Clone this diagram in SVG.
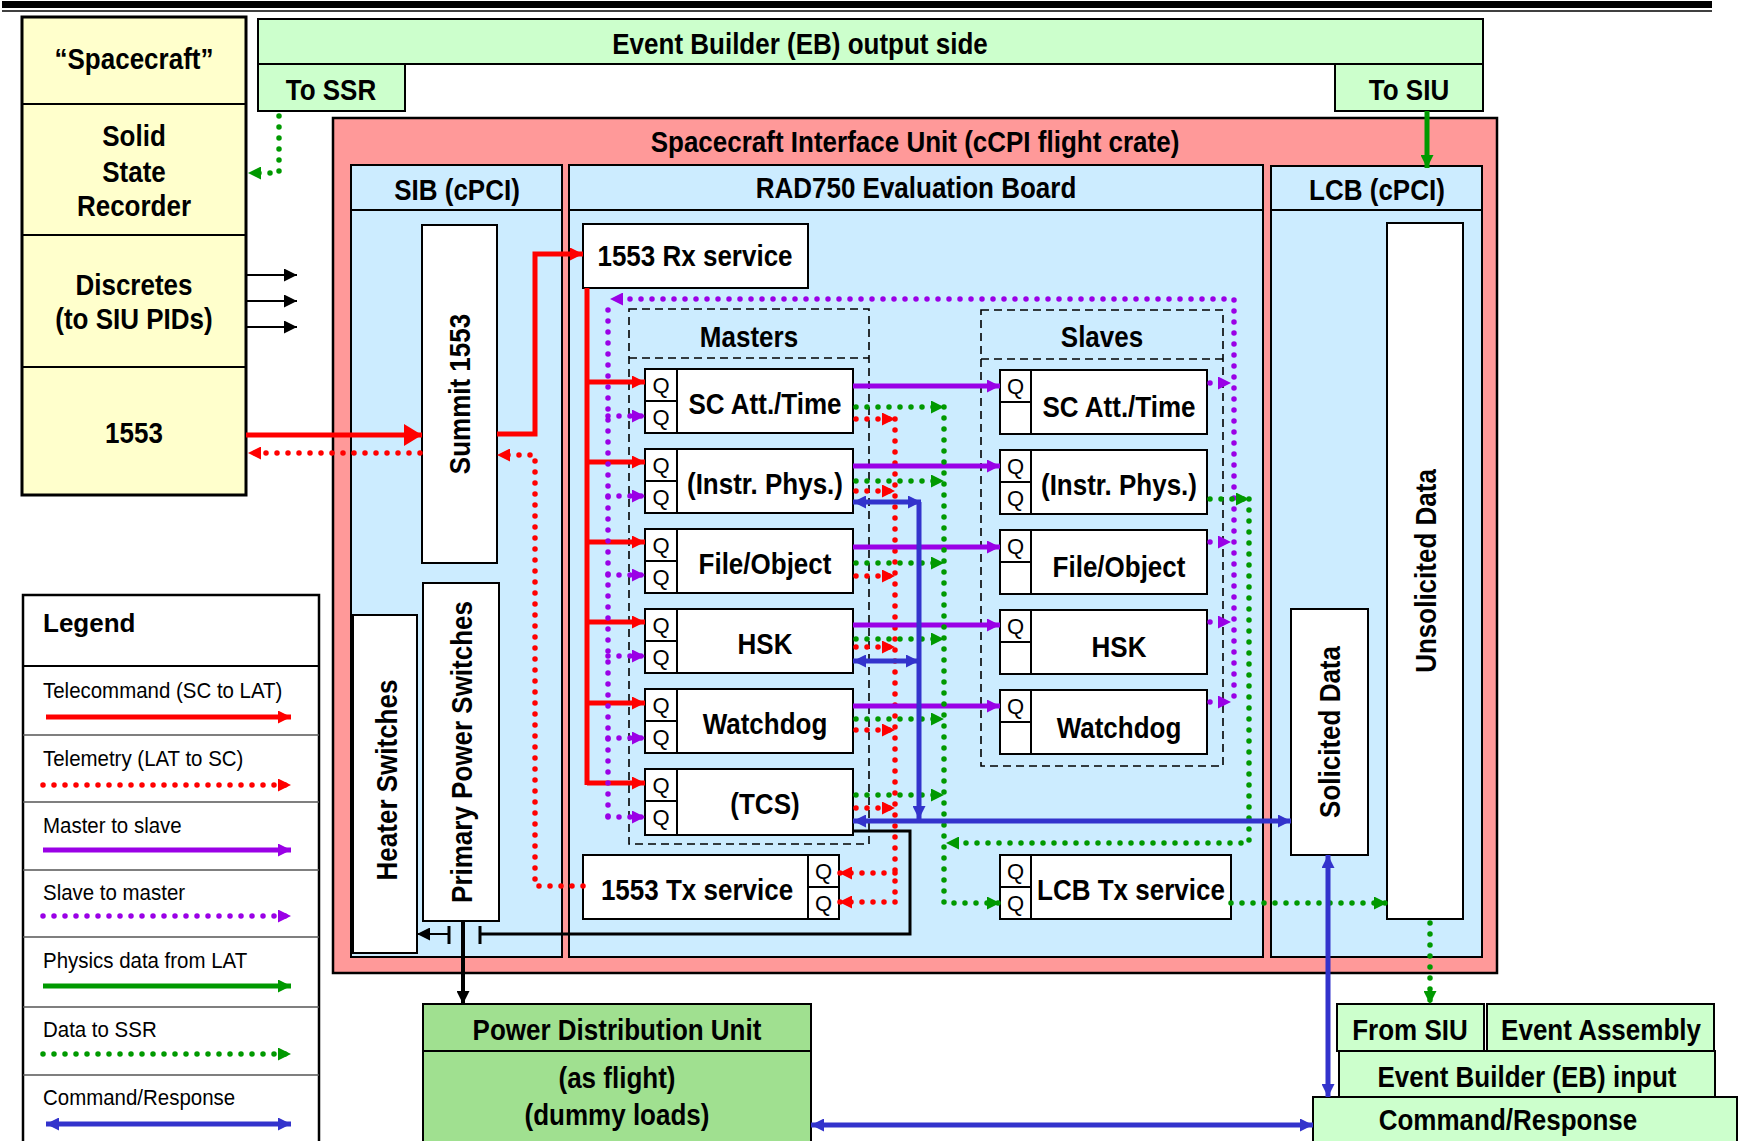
<svg xmlns="http://www.w3.org/2000/svg" width="1738" height="1141" viewBox="0 0 1738 1141">
<style>
text{font-family:"Liberation Sans",Arial,sans-serif;fill:#000}
.t{font-size:30px;font-weight:bold;text-anchor:middle;transform-box:fill-box;transform-origin:center;transform:scale(0.8667,1) translate(0,1.5px)}
.q{font-size:22px;text-anchor:middle}
.lg{font-size:22px;transform-box:fill-box;transform-origin:0 50%;transform:scale(0.93,1)}
.lgh{font-size:26px;font-weight:bold}
.box{fill:#fff;stroke:#000;stroke-width:2}
.yel{fill:#FFFFCC;stroke:#000;stroke-width:3}
.grnl{fill:#CCFFCC;stroke:#000;stroke-width:2}
.grnd{fill:#A0E090;stroke:#000;stroke-width:2}
.pink{fill:#FF9999;stroke:#000;stroke-width:2.5}
.blue{fill:#CCECFF;stroke:#000;stroke-width:2}
.dash{fill:none;stroke:#000;stroke-width:1.6;stroke-dasharray:8 5}
.ln{stroke:#000;stroke-width:2;fill:none}
.c{fill:none;stroke-width:5}
.d{fill:none;stroke-width:5.5;stroke-dasharray:0 11;stroke-linecap:round}
.r{stroke:#FF0000}
.p{stroke:#9A00E6}
.g{stroke:#009900}
.b{stroke:#3333CC}
.k{stroke:#000}
</style>
<defs>
<marker id="ar-r" viewBox="0 0 12 12" markerWidth="13" markerHeight="13" refX="12" refY="6" orient="auto-start-reverse" markerUnits="userSpaceOnUse"><path d="M0,0L12,6L0,12z" fill="#FF0000"/></marker>
<marker id="ar-rb" viewBox="0 0 18 22" markerWidth="18" markerHeight="22" refX="18" refY="11" orient="auto" markerUnits="userSpaceOnUse"><path d="M0,0L18,11L0,22z" fill="#FF0000"/></marker>
<marker id="ar-p" viewBox="0 0 12 12" markerWidth="13" markerHeight="13" refX="12" refY="6" orient="auto-start-reverse" markerUnits="userSpaceOnUse"><path d="M0,0L12,6L0,12z" fill="#9A00E6"/></marker>
<marker id="ar-g" viewBox="0 0 12 12" markerWidth="13" markerHeight="13" refX="12" refY="6" orient="auto-start-reverse" markerUnits="userSpaceOnUse"><path d="M0,0L12,6L0,12z" fill="#009900"/></marker>
<marker id="ar-b" viewBox="0 0 12 12" markerWidth="13" markerHeight="13" refX="12" refY="6" orient="auto-start-reverse" markerUnits="userSpaceOnUse"><path d="M0,0L12,6L0,12z" fill="#3333CC"/></marker>
<marker id="ar-k" viewBox="0 0 12 12" markerWidth="13" markerHeight="13" refX="12" refY="6" orient="auto-start-reverse" markerUnits="userSpaceOnUse"><path d="M0,0L12,6L0,12z" fill="#000"/></marker>
</defs>
<rect width="1738" height="1141" fill="#fff"/>

<g id="top-rule">
<rect x="2" y="1" width="1710" height="7" fill="#000"/>
<line x1="2" y1="11" x2="1712" y2="11" stroke="#000" stroke-width="1.6"/>
</g>

<g id="spacecraft">
<rect class="yel" x="22" y="17" width="224" height="478"/>
<line class="ln" x1="22" y1="104" x2="246" y2="104" stroke-width="3"/>
<line class="ln" x1="22" y1="235" x2="246" y2="235"/>
<line class="ln" x1="22" y1="367" x2="246" y2="367"/>
<text class="t" x="134" y="68">“Spacecraft”</text>
<text class="t" x="134" y="145">Solid</text>
<text class="t" x="134" y="181">State</text>
<text class="t" x="134" y="215">Recorder</text>
<text class="t" x="134" y="294">Discretes</text>
<text class="t" x="134" y="328">(to SIU PIDs)</text>
<text class="t" x="134" y="442">1553</text>
</g>

<g id="eb-output">
<rect class="grnl" x="258" y="19" width="1225" height="45"/>
<text class="t" x="800" y="53">Event Builder (EB) output side</text>
</g>
<g id="to-ssr"><rect class="grnl" x="258" y="64" width="147" height="47"/><text class="t" x="331" y="99">To SSR</text></g>
<g id="to-siu"><rect class="grnl" x="1335" y="64" width="148" height="47"/><text class="t" x="1409" y="99">To SIU</text></g>

<g id="siu-crate">
<rect class="pink" x="333" y="118" width="1164" height="855"/>
<text class="t" x="915" y="151">Spacecraft Interface Unit (cCPI flight crate)</text>
</g>
<g id="sib">
<rect class="blue" x="351" y="165" width="211" height="792"/>
<line class="ln" x1="351" y1="210" x2="562" y2="210"/>
<text class="t" x="457" y="199">SIB (cPCI)</text>
</g>
<g id="rad750">
<rect class="blue" x="569" y="165" width="694" height="792"/>
<line class="ln" x1="569" y1="210" x2="1263" y2="210"/>
<text class="t" x="916" y="197">RAD750 Evaluation Board</text>
</g>
<g id="lcb">
<rect class="blue" x="1271" y="166" width="211" height="791"/>
<line class="ln" x1="1271" y1="210" x2="1482" y2="210"/>
<text class="t" x="1377" y="199">LCB (cPCI)</text>
</g>

<g id="summit"><rect class="box" x="422" y="225" width="75" height="338"/><g transform="translate(459,394) rotate(-90)"><text class="t" x="0" y="9">Summit 1553</text></g></g>
<g id="primary-power"><rect class="box" x="423" y="583" width="76" height="338"/><g transform="translate(461,752) rotate(-90)"><text class="t" x="0" y="9">Primary Power Switches</text></g></g>
<g id="heater"><rect class="box" x="353" y="615" width="64" height="338"/><g transform="translate(386,780) rotate(-90)"><text class="t" x="0" y="9">Heater Switches</text></g></g>

<g id="rx-service"><rect class="box" x="583" y="224" width="225" height="64"/><text class="t" x="695" y="265">1553 Rx service</text></g>

<g id="masters">
<rect class="dash" x="629" y="309" width="240" height="535"/>
<line class="dash" x1="629" y1="358" x2="869" y2="358"/>
<text class="t" x="749" y="346">Masters</text>
</g>
<g id="slaves">
<rect class="dash" x="981" y="310" width="242" height="456"/>
<line class="dash" x1="981" y1="359" x2="1223" y2="359"/>
<text class="t" x="1102" y="346">Slaves</text>
</g>

<g id="m-scatt"><rect class="box" x="645" y="369" width="208" height="64"/><path class="ln" d="M677,369V433M645,401H677"/><text class="q" x="661" y="393">Q</text><text class="q" x="661" y="425">Q</text><text class="t" x="765" y="413">SC Att./Time</text></g>
<g id="m-instr"><rect class="box" x="645" y="449" width="208" height="64"/><path class="ln" d="M677,449V513M645,481H677"/><text class="q" x="661" y="473">Q</text><text class="q" x="661" y="505">Q</text><text class="t" x="765" y="493">(Instr. Phys.)</text></g>
<g id="m-file"><rect class="box" x="645" y="529" width="208" height="64"/><path class="ln" d="M677,529V593M645,561H677"/><text class="q" x="661" y="553">Q</text><text class="q" x="661" y="585">Q</text><text class="t" x="765" y="573">File/Object</text></g>
<g id="m-hsk"><rect class="box" x="645" y="609" width="208" height="64"/><path class="ln" d="M677,609V673M645,641H677"/><text class="q" x="661" y="633">Q</text><text class="q" x="661" y="665">Q</text><text class="t" x="765" y="653">HSK</text></g>
<g id="m-watchdog"><rect class="box" x="645" y="689" width="208" height="64"/><path class="ln" d="M677,689V753M645,721H677"/><text class="q" x="661" y="713">Q</text><text class="q" x="661" y="745">Q</text><text class="t" x="765" y="733">Watchdog</text></g>
<g id="m-tcs"><rect class="box" x="645" y="769" width="208" height="66"/><path class="ln" d="M677,769V835M645,801H677"/><text class="q" x="661" y="793">Q</text><text class="q" x="661" y="825">Q</text><text class="t" x="765" y="813">(TCS)</text></g>

<g id="s-scatt"><rect class="box" x="1000" y="370" width="207" height="64"/><path class="ln" d="M1031,370V434M1000,402H1031"/><text class="q" x="1015.5" y="394">Q</text><text class="t" x="1119" y="416">SC Att./Time</text></g>
<g id="s-instr"><rect class="box" x="1000" y="450" width="207" height="64"/><path class="ln" d="M1031,450V514M1000,482H1031"/><text class="q" x="1015.5" y="474">Q</text><text class="q" x="1015.5" y="506">Q</text><text class="t" x="1119" y="494">(Instr. Phys.)</text></g>
<g id="s-file"><rect class="box" x="1000" y="530" width="207" height="64"/><path class="ln" d="M1031,530V594M1000,562H1031"/><text class="q" x="1015.5" y="554">Q</text><text class="t" x="1119" y="576">File/Object</text></g>
<g id="s-hsk"><rect class="box" x="1000" y="610" width="207" height="64"/><path class="ln" d="M1031,610V674M1000,642H1031"/><text class="q" x="1015.5" y="634">Q</text><text class="t" x="1119" y="656">HSK</text></g>
<g id="s-watchdog"><rect class="box" x="1000" y="690" width="207" height="64"/><path class="ln" d="M1031,690V754M1000,722H1031"/><text class="q" x="1015.5" y="714">Q</text><text class="t" x="1119" y="737">Watchdog</text></g>

<g id="tx-service"><rect class="box" x="583" y="855" width="256" height="64"/><path class="ln" d="M808,855V919M808,887H839"/><text class="q" x="823.5" y="879">Q</text><text class="q" x="823.5" y="911">Q</text><text class="t" x="697" y="899">1553 Tx service</text></g>
<g id="lcb-tx"><rect class="box" x="1000" y="855" width="231" height="64"/><path class="ln" d="M1031,855V919M1000,887H1031"/><text class="q" x="1015.5" y="879">Q</text><text class="q" x="1015.5" y="911">Q</text><text class="t" x="1131" y="899">LCB Tx service</text></g>

<g id="solicited"><rect class="box" x="1291" y="609" width="77" height="246"/><g transform="translate(1329,732) rotate(-90)"><text class="t" x="0" y="9">Solicited Data</text></g></g>
<g id="unsolicited"><rect class="box" x="1387" y="223" width="76" height="696"/><g transform="translate(1425,571) rotate(-90)"><text class="t" x="0" y="9">Unsolicited Data</text></g></g>

<g id="pdu">
<rect class="grnd" x="423" y="1004" width="388" height="145"/>
<line class="ln" x1="423" y1="1051" x2="811" y2="1051"/>
<text class="t" x="617" y="1039">Power Distribution Unit</text>
<text class="t" x="617" y="1087">(as flight)</text>
<text class="t" x="617" y="1124">(dummy loads)</text>
</g>

<g id="from-siu"><rect class="grnl" x="1337" y="1004" width="147" height="47"/><text class="t" x="1410" y="1039">From SIU</text></g>
<g id="event-assembly"><rect class="grnl" x="1487" y="1004" width="227" height="47"/><text class="t" x="1601" y="1039">Event Assembly</text></g>
<g id="eb-input"><rect class="grnl" x="1339" y="1051" width="376" height="46"/><text class="t" x="1527" y="1086">Event Builder (EB) input</text></g>
<g id="cmd-response"><rect class="grnl" x="1313" y="1097" width="424" height="50"/><text class="t" x="1508" y="1129">Command/Response</text></g>

<g id="legend">
<rect x="23" y="595" width="296" height="555" fill="#fff" stroke="#000" stroke-width="2.5"/>
<line class="ln" x1="23" y1="666" x2="319" y2="666" stroke-width="2.5"/>
<path d="M23,735H319M23,802H319M23,870H319M23,937H319M23,1007H319M23,1075H319" stroke="#555" stroke-width="1.5" fill="none"/>
<text class="lgh" x="43" y="632">Legend</text>
<text class="lg" x="43" y="698">Telecommand (SC to LAT)</text>
<text class="lg" x="43" y="766">Telemetry (LAT to SC)</text>
<text class="lg" x="43" y="833">Master to slave</text>
<text class="lg" x="43" y="900">Slave to master</text>
<text class="lg" x="43" y="968">Physics data from LAT</text>
<text class="lg" x="43" y="1037">Data to SSR</text>
<text class="lg" x="43" y="1105">Command/Response</text>
<path class="c r" d="M46,717H291" marker-end="url(#ar-r)"/>
<path class="d r" d="M43,785H291" marker-end="url(#ar-r)"/>
<path class="c p" d="M43,850H291" marker-end="url(#ar-p)"/>
<path class="d p" d="M43,916H291" marker-end="url(#ar-p)"/>
<path class="c g" d="M43,986H291" marker-end="url(#ar-g)"/>
<path class="d g" d="M43,1054H291" marker-end="url(#ar-g)"/>
<path class="c b" d="M46,1124H291" marker-start="url(#ar-b)" marker-end="url(#ar-b)"/>
</g>

<g id="connectors">
<path class="d g" d="M279,116V173H248" marker-end="url(#ar-g)"/>
<path class="c g" d="M1427,111V168" stroke-width="4" marker-end="url(#ar-g)"/>
<path class="ln k" d="M246,275H297" marker-end="url(#ar-k)"/>
<path class="ln k" d="M246,301H297" marker-end="url(#ar-k)"/>
<path class="ln k" d="M246,327H297" marker-end="url(#ar-k)"/>
<path class="c r" d="M246,435H422" stroke-width="7" marker-end="url(#ar-rb)"/>
<path class="d r" d="M420,453H248" marker-end="url(#ar-r)"/>
<path class="c r" d="M497,434H535V254H583" marker-end="url(#ar-r)"/>
<path class="c r" d="M587,288V785"/>
<path class="c r" d="M587,382H645" marker-end="url(#ar-r)"/>
<path class="c r" d="M587,462H645" marker-end="url(#ar-r)"/>
<path class="c r" d="M587,542H645" marker-end="url(#ar-r)"/>
<path class="c r" d="M587,622H645" marker-end="url(#ar-r)"/>
<path class="c r" d="M587,703H645" marker-end="url(#ar-r)"/>
<path class="c r" d="M587,783H645" marker-end="url(#ar-r)"/>
<path class="d r" d="M583,886H535V455H497" marker-end="url(#ar-r)"/>
<path class="d r" d="M856,419H895" marker-end="url(#ar-r)"/>
<path class="d r" d="M856,491H895" marker-end="url(#ar-r)"/>
<path class="d r" d="M856,576H895" marker-end="url(#ar-r)"/>
<path class="d r" d="M856,647H895" marker-end="url(#ar-r)"/>
<path class="d r" d="M856,730H895" marker-end="url(#ar-r)"/>
<path class="d r" d="M856,808H895" marker-end="url(#ar-r)"/>
<path class="d r" d="M895,419V902"/>
<path class="d r" d="M895,873H839" marker-end="url(#ar-r)"/>
<path class="d r" d="M895,902H839" marker-end="url(#ar-r)"/>
<path class="c p" d="M853,386H1000" marker-end="url(#ar-p)"/>
<path class="c p" d="M853,466H1000" marker-end="url(#ar-p)"/>
<path class="c p" d="M853,547H1000" marker-end="url(#ar-p)"/>
<path class="c p" d="M853,625H1000" marker-end="url(#ar-p)"/>
<path class="c p" d="M853,706H1000" marker-end="url(#ar-p)"/>
<path class="d p" d="M1210,383H1231" marker-end="url(#ar-p)"/>
<path class="d p" d="M1210,542H1231" marker-end="url(#ar-p)"/>
<path class="d p" d="M1210,622H1231" marker-end="url(#ar-p)"/>
<path class="d p" d="M1210,702H1231" marker-end="url(#ar-p)"/>
<path class="d p" d="M1234,696V299H610" marker-end="url(#ar-p)"/>
<path class="d p" d="M608,310V817"/>
<path class="d p" d="M608,416H645" marker-end="url(#ar-p)"/>
<path class="d p" d="M608,496H645" marker-end="url(#ar-p)"/>
<path class="d p" d="M608,575H645" marker-end="url(#ar-p)"/>
<path class="d p" d="M608,656H645" marker-end="url(#ar-p)"/>
<path class="d p" d="M608,738H645" marker-end="url(#ar-p)"/>
<path class="d p" d="M608,817H645" marker-end="url(#ar-p)"/>
<path class="d g" d="M856,407H944" marker-end="url(#ar-g)"/>
<path class="d g" d="M856,481H944" marker-end="url(#ar-g)"/>
<path class="d g" d="M856,563H944" marker-end="url(#ar-g)"/>
<path class="d g" d="M856,639H944" marker-end="url(#ar-g)"/>
<path class="d g" d="M856,719H944" marker-end="url(#ar-g)"/>
<path class="d g" d="M856,795H944" marker-end="url(#ar-g)"/>
<path class="d g" d="M944,407V903H1000" marker-end="url(#ar-g)"/>
<path class="d g" d="M1210,499H1249" marker-end="url(#ar-g)"/>
<path class="d g" d="M1249,499V843H946" marker-end="url(#ar-g)"/>
<path class="d g" d="M1231,903H1387" marker-end="url(#ar-g)"/>
<path class="d g" d="M1430,923V1004" marker-end="url(#ar-g)"/>
<path class="c b" d="M853,502H921" marker-start="url(#ar-b)" marker-end="url(#ar-b)"/>
<path class="c b" d="M919,502V819" marker-end="url(#ar-b)"/>
<path class="c b" d="M853,661H919" marker-start="url(#ar-b)" marker-end="url(#ar-b)"/>
<path class="c b" d="M853,821H1291" marker-start="url(#ar-b)" marker-end="url(#ar-b)"/>
<path class="c b" d="M1328,855V1097" marker-start="url(#ar-b)" marker-end="url(#ar-b)"/>
<path class="c b" d="M811,1125H1313" marker-start="url(#ar-b)" marker-end="url(#ar-b)"/>
<path d="M463,921V1004" stroke="#000" stroke-width="4" fill="none" marker-end="url(#ar-k)"/>
<path d="M449,926V944M480,926V944" stroke="#000" stroke-width="3" fill="none"/>
<path class="ln k" d="M449,934H417" marker-end="url(#ar-k)"/>
<path d="M480,934H910V831H853" stroke="#000" stroke-width="3" fill="none"/>
</g>
</svg>
